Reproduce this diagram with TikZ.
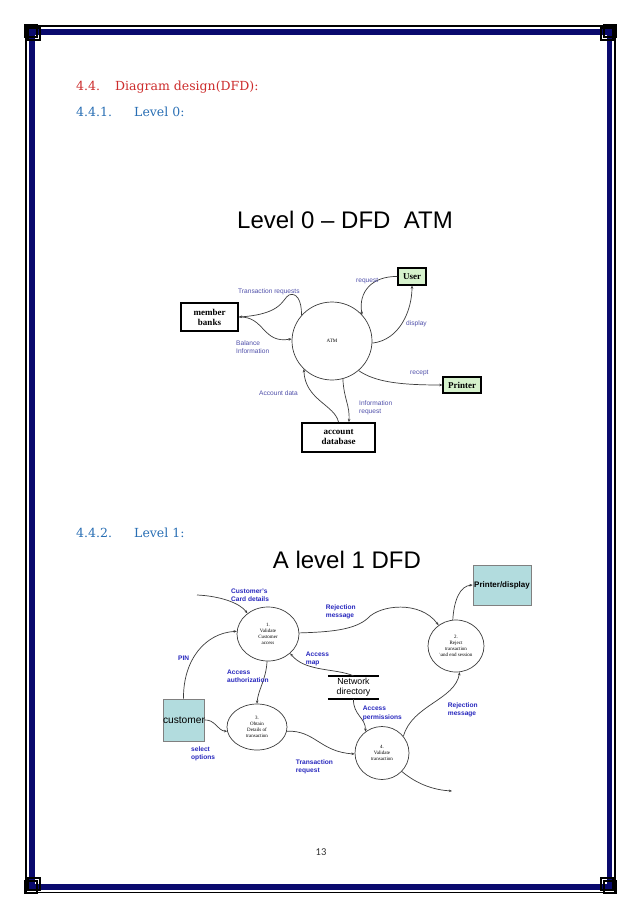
\documentclass[tikz,border=0pt]{standalone}
\usepackage{fontspec}
\setmainfont{Liberation Serif}
\setsansfont{Liberation Sans}
\newfontfamily\calibfont{Carlito}
\newfontfamily\headfont{DejaVu Serif}
\usetikzlibrary{shapes.geometric,arrows.meta}
\definecolor{navyb}{RGB}{10,10,110}
\definecolor{headred}{RGB}{205,45,45}
\definecolor{headblue}{RGB}{40,110,180}
\definecolor{lblA}{RGB}{80,80,170}
\definecolor{lblB}{RGB}{40,40,190}
\definecolor{boxgreen}{RGB}{214,242,204}
\definecolor{boxcyan}{RGB}{178,220,222}
\definecolor{linec}{RGB}{60,60,60}
\newcommand{\myfs}[2]{\fontsize{#1}{#2}\selectfont}
\begin{document}
\begin{tikzpicture}[x=1pt,y=-1pt,
  arr/.style={draw=linec,line width=0.7pt,-{Stealth[length=3.2pt,width=2.6pt]}},
  boxA/.style={draw=black,line width=1.8pt,inner sep=0pt,align=center,font=\bfseries\myfs{9}{10}},
  boxG/.style={draw=black,line width=1.1pt,fill=boxgreen,inner sep=0pt,align=center,font=\bfseries\myfs{9}{10}},
  boxC/.style={draw=gray,line width=0.6pt,fill=boxcyan,inner sep=0pt,align=center},
  procA/.style={draw=linec,line width=0.7pt,ellipse,inner sep=0pt,align=center,font=\myfs{5}{6}},
  lblzero/.style={text=lblA,font=\sffamily\myfs{6.6}{8},align=left,inner sep=0pt},
  lblone/.style={text=lblB,font=\sffamily\bfseries\myfs{6.6}{8.5},align=left,inner sep=0pt},
  headA/.style={anchor=base west,inner sep=0pt,font=\headfont\myfs{12.5}{14}},
  titleA/.style={anchor=base west,inner sep=0pt,font=\sffamily\myfs{24}{24}}
]
\useasboundingbox[fill=white] (0,0) rectangle (638,903);
% ---------- page frame ----------
\draw[navyb,line width=5.5pt] (32.2,32.2) rectangle (609.4,887);
\draw[black,line width=1.2pt] (26,26) rectangle (615,892.5);
\foreach \px/\py/\sx/\sy in {25/25/1/1, 616/25/-1/1, 25/893/1/-1, 616/893/-1/-1}{
  \draw[black,line width=1.2pt] (\px,\py) rectangle ++(12*\sx,12*\sy);
  \draw[black,line width=1.2pt] (\px+3*\sx,\py+3*\sy) rectangle ++(12*\sx,12*\sy);
}
% ---------- headings ----------
\node[headA,text=headred] (h1n) at (76,90.5) {4.4.};
\node[headA,text=headred] (h1t) at (115,90.5) {Diagram design(DFD):};
\node[headA,text=headblue] (h2n) at (76,116.5) {4.4.1.};
\node[headA,text=headblue] (h2t) at (134,116.5) {Level 0:};
\node[headA,text=headblue] (h3n) at (76,537.5) {4.4.2.};
\node[headA,text=headblue] (h3t) at (134,537.5) {Level 1:};
\node[anchor=base,inner sep=0pt,font=\calibfont\myfs{10.5}{11},text=black!80] (pg) at (321,855.5) {13};
% ---------- Level 0 ----------
\node[titleA] (t0) at (237,228.5) {Level 0 -- DFD\ \ ATM};
\node[boxA,minimum width=57pt,minimum height=28pt] (mb) at (209.5,317) {member\\banks};
\node[boxG,minimum width=28pt,minimum height=17pt] (user) at (412,276.5) {User};
\node[boxG,minimum width=38pt,minimum height=16pt] (prn) at (462,385) {Printer};
\node[boxA,minimum width=73pt,minimum height=29pt] (db) at (338.5,437.5) {account\\database};
\node[procA,minimum width=80pt,minimum height=78pt] (atm) at (332,341) {ATM};

\draw[arr] (atm.140) .. controls (302,300) and (296,292) .. (289,295)
                     .. controls (282,299) and (283,314) .. (mb.east);
\draw[arr] (mb.east) .. controls (265,316) and (262,344) .. (atm.177);
\draw[arr] (user.west) .. controls (372,276) and (358,292) .. (atm.41);
\draw[arr] (atm.-3) .. controls (400,340) and (412,310) .. (user.south);
\draw[arr] (atm.-48) .. controls (375,382) and (400,385) .. (prn.west);
\draw[arr] (db.north) .. controls (335,405) and (305,400) .. (atm.225);
\draw[arr] (atm.-74) .. controls (344,400) and (350,405) .. (db.56);

\node[lblzero,anchor=west] (l0a) at (238,292) {Transaction requests};
\node[lblzero,anchor=west] (l0b) at (356,281) {request};
\node[lblzero,anchor=west] (l0c) at (406,324) {display};
\node[lblzero,anchor=west] (l0d) at (236,347) {Balance\\Information};
\node[lblzero,anchor=west] (l0e) at (410,373) {recept};
\node[lblzero,anchor=west] (l0f) at (259,393.5) {Account data};
\node[lblzero,anchor=west] (l0g) at (359,407.5) {Information\\request};
% ---------- Level 1 ----------
\node[titleA] (t1) at (272.7,568.3) {A level 1 DFD};
\node[procA,minimum width=62pt,minimum height=54pt] (c1) at (268,634) {1.\\Validate\\Customer\\access};
\node[procA,minimum width=56pt,minimum height=52pt] (c2) at (456,646) {2.\\Reject\\transaction\\\textbackslash and end session};
\node[procA,minimum width=60pt,minimum height=46pt] (c3) at (257,727) {3.\\Obtain\\Details of\\transaction};
\node[procA,minimum width=54pt,minimum height=53pt] (c4) at (382,753) {4.\\Validate\\transaction};
\node[boxC,minimum width=41pt,minimum height=42pt] (cust) at (183.5,720) {};
\node[font=\sffamily\myfs{10.2}{11},inner sep=0pt] (custt) at (184,720) {customer};
\node[boxC,minimum width=58pt,minimum height=40pt,font=\sffamily\bfseries\myfs{8}{9}] (pd) at (502,585) {Printer/display};
\node[inner sep=0pt,minimum width=51pt,minimum height=23pt,align=center,font=\sffamily\myfs{8.8}{10}] (nd) at (353.5,687.5) {Network\\directory};
\draw[black,line width=1.5pt] (nd.north west) -- (nd.north east);
\draw[black,line width=1.5pt] (nd.south west) -- (nd.south east);
\coordinate (cin) at (197,595);
\coordinate (cout) at (452,791);

\draw[arr] (cin) .. controls (220,596) and (240,603) .. (c1.135);
\draw[arr] (c1.2) .. controls (330,632) and (355,630) .. (368,618)
                  .. controls (380,605) and (420,600) .. (c2.130);
\draw[arr] (c2.97) .. controls (454,600) and (460,586) .. (pd.west);
\draw[arr] (cust.north) .. controls (183,660) and (205,633) .. (c1.175);
\draw[arr] (c1.-92) .. controls (266,680) and (258,690) .. (c3.north);
\draw[arr] (nd.north) .. controls (335,668) and (305,672) .. (c1.-41);
\draw[arr] (nd.south) .. controls (353,715) and (366,718) .. (c4.128);
\draw[arr] (cust.east) .. controls (215,719) and (218,731) .. (c3.188);
\draw[arr] (c3.-8) .. controls (315,730) and (320,752) .. (c4.182);
\draw[arr] (c4.38) .. controls (412,705) and (455,700) .. (c2.-82);
\draw[arr] (c4.-43) .. controls (418,785) and (435,790) .. (cout);

\node[lblone,anchor=west] (l1a) at (231,595) {Customer's\\Card details};
\node[lblone,anchor=west] (l1b) at (325.7,612) {Rejection\\message};
\node[lblone,anchor=west] (l1c) at (178,658) {PIN};
\node[lblone,anchor=west] (l1d) at (227,676.5) {Access\\authorization};
\node[lblone,anchor=west] (l1e) at (305.7,659) {Access\\map};
\node[lblone,anchor=west] (l1f) at (362.7,713.5) {Access\\permissions};
\node[lblone,anchor=west] (l1g) at (447.7,710) {Rejection\\message};
\node[lblone,anchor=west] (l1h) at (191,754) {select\\options};
\node[lblone,anchor=west] (l1i) at (295.7,767) {Transaction\\request};
\end{tikzpicture}
\end{document}
